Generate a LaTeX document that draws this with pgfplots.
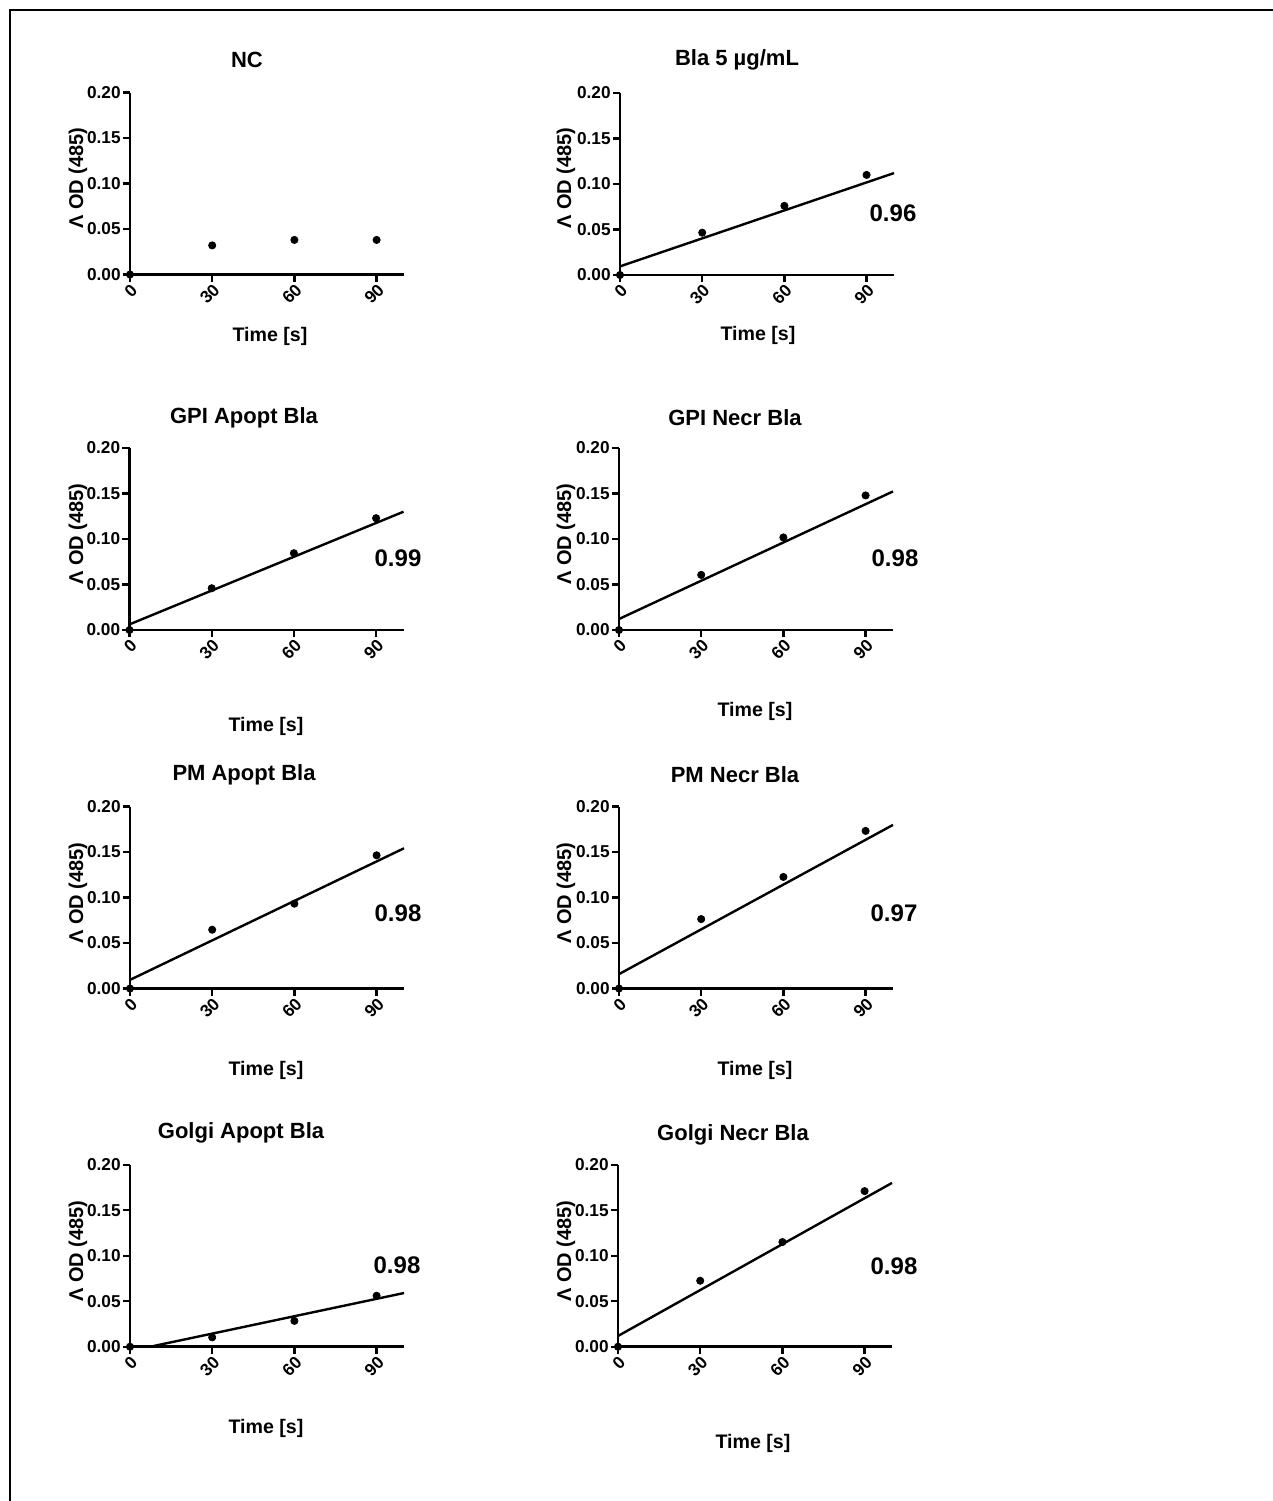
\documentclass[border=0pt]{standalone}
\usepackage{fontspec}
\setmainfont{Liberation Sans}
\usepackage{pgfplots}
\pgfplotsset{compat=1.18}
\pgfplotsset{panel/.style={
  width=137pt, height=91pt, scale only axis, anchor=south west,
  xmin=0, xmax=100, ymin=0, ymax=0.2,
  axis lines*=left, axis line style={line width=1.4pt},
  xtick={0,30,60,90}, ytick={0,0.05,0.1,0.15,0.2},
  tick align=outside, major tick length=3.5pt,
  tick style={line width=1.2pt, black},
  /pgf/number format/assume math mode=true,
  yticklabel style={/pgf/number format/.cd, fixed, fixed zerofill, precision=2, /tikz/.cd},
  ticklabel style={font=\bfseries\fontsize{8.6}{10}\selectfont},
  yticklabel style={inner sep=1pt},
  xticklabel style={rotate=45, anchor=north east, inner sep=1pt},
  xticklabel shift=-1pt,
  clip=false,
}}
\tikzset{
  ttl/.style={font=\bfseries\fontsize{11}{13}\selectfont},
  xl/.style={font=\bfseries\fontsize{9.8}{11}\selectfont},
  yl/.style={font=\bfseries\fontsize{10}{12}\selectfont, rotate=90},
  rr/.style={font=\bfseries\fontsize{12}{14}\selectfont},
  dots/.style={only marks, mark=*, mark size=1.8pt, black},
  fit/.style={no marks, line width=1.2pt, black},
}
\begin{document}
\begin{tikzpicture}[x=0.5pt, y=-0.5pt]
\useasboundingbox (0,0) rectangle (1273,1501);
\draw[line width=1pt] (9.5,1501) -- (9.5,9.5) -- (1273,9.5);

% Row 1
\begin{axis}[panel, at={(65pt,-137.25pt)}]
\addplot[dots] coordinates {(0,0) (30,0.032) (60,0.038) (90,0.038)};
\end{axis}
\begin{axis}[panel, at={(310pt,-137.5pt)}]
\addplot[fit] coordinates {(0,0.0095) (100,0.112)};
\addplot[dots] coordinates {(0,0) (30,0.0465) (60,0.076) (90,0.110)};
\end{axis}

% Row 2
\begin{axis}[panel, at={(64.75pt,-315pt)}]
\addplot[fit] coordinates {(0,0.0062) (100,0.130)};
\addplot[dots] coordinates {(0,0) (30,0.0459) (60,0.0844) (90,0.1229)};
\end{axis}
\begin{axis}[panel, at={(309.5pt,-315pt)}]
\addplot[fit] coordinates {(0,0.0121) (100,0.1523)};
\addplot[dots] coordinates {(0,0) (30,0.0606) (60,0.1017) (90,0.1479)};
\end{axis}

% Row 3
\begin{axis}[panel, at={(65pt,-494.25pt)}]
\addplot[fit] coordinates {(0,0.0095) (100,0.1541)};
\addplot[dots] coordinates {(0,0) (30,0.0646) (60,0.0932) (90,0.1464)};
\end{axis}
\begin{axis}[panel, at={(309.5pt,-494.25pt)}]
\addplot[fit] coordinates {(0,0.0158) (100,0.1798)};
\addplot[dots] coordinates {(0,0) (30,0.0763) (60,0.1226) (90,0.1732)};
\end{axis}

% Row 4
\begin{axis}[panel, at={(65pt,-673.35pt)}]
\addplot[fit] coordinates {(7.4,0) (100,0.0590)};
\addplot[dots] coordinates {(0,0) (30,0.0103) (60,0.0284) (90,0.0560)};
\end{axis}
\begin{axis}[panel, at={(309pt,-673.35pt)}]
\addplot[fit] coordinates {(0,0.0118) (100,0.180)};
\addplot[dots] coordinates {(0,0) (30,0.0725) (60,0.115) (90,0.171)};
\end{axis}

% Titles
\node[ttl] at (247,60) {NC};
\node[ttl] at (737,60) {Bla 5 µg/mL};
\node[ttl] at (244,418) {GPI Apopt Bla};
\node[ttl] at (735,418) {GPI Necr Bla};
\node[ttl] at (244,775) {PM Apopt Bla};
\node[ttl] at (735,775) {PM Necr Bla};
\node[ttl] at (241,1133) {Golgi Apopt Bla};
\node[ttl] at (733,1135) {Golgi Necr Bla};

% x labels
\node[xl] at (270,336) {Time [s]};
\node[xl] at (758,335) {Time [s]};
\node[xl] at (266,726) {Time [s]};
\node[xl] at (755,711) {Time [s]};
\node[xl] at (266,1070) {Time [s]};
\node[xl] at (755,1070) {Time [s]};
\node[xl] at (266,1428) {Time [s]};
\node[xl] at (753,1443) {Time [s]};

% y labels
\node[yl] at (78,178) {Λ OD (485)};
\node[yl] at (566,178) {Λ OD (485)};
\node[yl] at (78,534) {Λ OD (485)};
\node[yl] at (566,534) {Λ OD (485)};
\node[yl] at (78,893) {Λ OD (485)};
\node[yl] at (566,893) {Λ OD (485)};
\node[yl] at (78,1251) {Λ OD (485)};
\node[yl] at (566,1251) {Λ OD (485)};

% R^2 values
\node[rr] at (893,213) {0.96};
\node[rr] at (398,558) {0.99};
\node[rr] at (895,558) {0.98};
\node[rr] at (398,913) {0.98};
\node[rr] at (894,913) {0.97};
\node[rr] at (397,1265) {0.98};
\node[rr] at (894,1266) {0.98};
\end{tikzpicture}
\end{document}
